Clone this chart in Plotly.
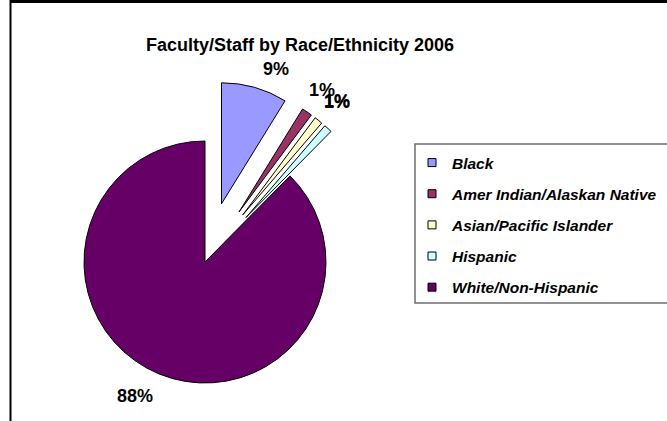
import math
import plotly.graph_objects as go

# ---- data ----
categories = ["Black", "Amer Indian/Alaskan Native", "Asian/Pacific Islander",
              "Hispanic", "White/Non-Hispanic"]
values = [8.8, 1.4, 1.1, 1.1, 87.6]
colors = ["#9999FF", "#993366", "#FFFFCC", "#CCFFFF", "#660066"]
pulls = [0.5, 0.5, 0.5, 0.5, 0.0]
title_text = "Faculty/Staff by Race/Ethnicity 2006"

# ---- layout constants (pixels) ----
W, H = 667, 421
CX, CY, R = 205, 262, 121          # pie centre and radius
FONT = "Arial, Liberation Sans, sans-serif"
# label placement: radial factor and small nudges (px)
label_rf = [1.13, 1.22, 1.22, 1.22, 1.28]
label_nudge = [(17, -3), (0, 0), (2, 1), (-9, -7), (-11, -9)]

total = sum(values)
fracs = [v / total for v in values]
pct_text = [f"{round(f * 100)}%" for f in fracs]

fig = go.Figure()

start = 0.0
ann = []
for i, cat in enumerate(categories):
    mid = (start + fracs[i] / 2) * 2 * math.pi  # clockwise from 12 o'clock
    start += fracs[i]
    off = pulls[i] * R
    cx = CX + off * math.sin(mid)
    cy = CY - off * math.cos(mid)
    dom_x = [(cx - R) / W, (cx + R) / W]
    dom_y = [1 - (cy + R) / H, 1 - (cy - R) / H]
    cols = [colors[j] if j == i else "rgba(0,0,0,0)" for j in range(len(values))]
    lw = [1 if j == i else 0 for j in range(len(values))]
    fig.add_trace(go.Pie(
        labels=categories, values=values, sort=False, direction="clockwise",
        rotation=0, marker=dict(colors=cols, line=dict(color="#000000", width=lw)),
        textinfo="none", hoverinfo="skip", showlegend=False,
        domain=dict(x=dom_x, y=dom_y),
    ))
    # data label
    lx = cx + label_rf[i] * R * math.sin(mid) + label_nudge[i][0]
    ly = cy - label_rf[i] * R * math.cos(mid) + label_nudge[i][1]
    ann.append(dict(x=lx / W, y=1 - ly / H, xref="paper", yref="paper",
                    text=pct_text[i], showarrow=False, xanchor="center",
                    yanchor="middle",
                    font=dict(family=FONT, size=18, color="#000000", weight="bold")))

# legend entries
for i, cat in enumerate(categories):
    fig.add_trace(go.Scatter(
        x=[None], y=[None], mode="markers", name=cat, legendgroup=cat,
        marker=dict(symbol="square", size=8, color=colors[i],
                    line=dict(color="#000000", width=1)),
        showlegend=True,
    ))

shapes = [
    # outer frame
    dict(type="line", xref="paper", yref="paper", x0=10 / W, x1=1.02, y0=1 - 1.5 / H, y1=1 - 1.5 / H,
         line=dict(color="#000000", width=3)),
    dict(type="line", xref="paper", yref="paper", x0=10.5 / W, x1=10.5 / W, y0=-0.02, y1=1,
         line=dict(color="#000000", width=2)),
    # legend box
    dict(type="rect", xref="paper", yref="paper", x0=415 / W, x1=1.05,
         y0=1 - 303 / H, y1=1 - 144 / H, line=dict(color="#6e6e6e", width=1.5)),
]

fig.update_layout(
    width=W, height=H,
    margin=dict(l=0, r=0, t=0, b=0),
    paper_bgcolor="#FFFFFF", plot_bgcolor="#FFFFFF",
    title=dict(text=title_text, x=300 / W, xanchor="center", y=1 - 45 / H,
               yanchor="middle", yref="container",
               font=dict(family=FONT, size=18, color="#000000", weight="bold")),
    xaxis=dict(visible=False), yaxis=dict(visible=False),
    legend=dict(x=412 / W, y=1 - 146 / H, xanchor="left", yanchor="top",
                bgcolor="rgba(0,0,0,0)", borderwidth=0,
                traceorder="grouped", tracegroupgap=8,
                font=dict(family=FONT, size=15.5, color="#000000",
                          weight="bold", style="italic")),
    annotations=ann,
    shapes=shapes,
)

fig.write_html("out.html", config={"displayModeBar": False},
               post_script="document.body.style.margin='0';")
